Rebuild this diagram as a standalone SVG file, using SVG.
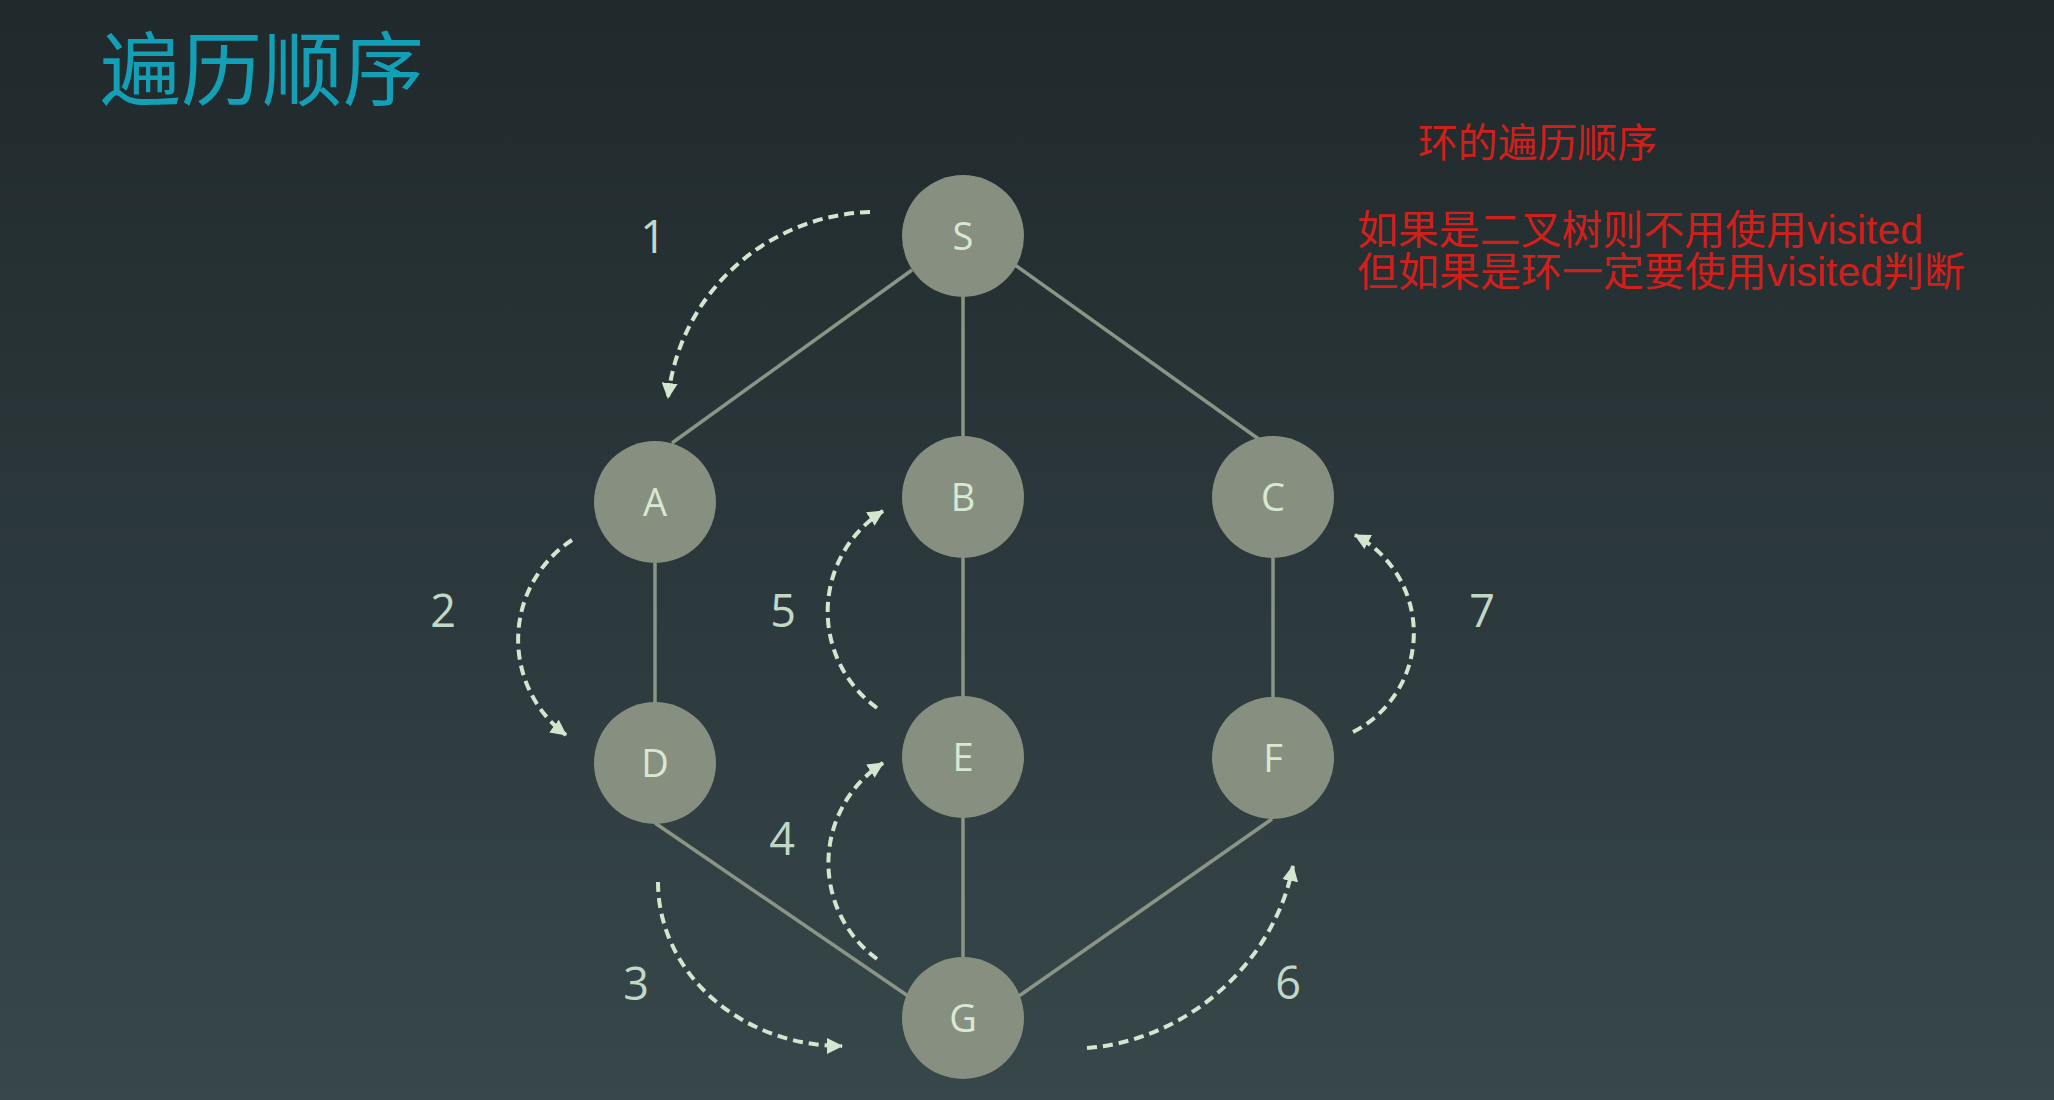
<svg xmlns="http://www.w3.org/2000/svg" width="2054" height="1100" viewBox="0 0 2054 1100">
<defs>
<linearGradient id="bg" x1="0" y1="0" x2="0" y2="1">
<stop offset="0" stop-color="#20292c"/>
<stop offset="1" stop-color="#37474a"/>
</linearGradient>
<marker id="ah" markerUnits="userSpaceOnUse" markerWidth="18" markerHeight="16" refX="15" refY="8" orient="auto" viewBox="0 0 18 16">
<path d="M0,0 L16,8 L0,16 z" fill="#d4e6cf"/>
</marker>
<style>
.edge{stroke:#8b9585;stroke-width:3.5;fill:none}
.node{fill:#879080}
.nl{font-family:"Open Sans","Noto Sans",sans-serif;font-size:38px;fill:#d8e8d2;text-anchor:middle}
.num{font-family:"Open Sans","Noto Sans",sans-serif;font-size:45px;fill:#c2d8c6;text-anchor:middle}
.trav{stroke:#d4e6cf;stroke-width:4;fill:none;stroke-dasharray:10 6;marker-end:url(#ah)}
.red{font-family:"Liberation Sans","Noto Sans CJK SC",sans-serif;font-size:40px;fill:#d0201c}
</style>
</defs>
<rect width="2054" height="1100" fill="url(#bg)"/>
<text x="100" y="99" font-family="'Noto Sans CJK SC',sans-serif" font-size="81" fill="#139fb5">遍历顺序</text>
<g id="notes">
<text class="red" x="1418" y="157" textLength="239" lengthAdjust="spacingAndGlyphs">环的遍历顺序</text>
<text class="red" x="1357" y="244" textLength="566" lengthAdjust="spacingAndGlyphs">如果是二叉树则不用使用visited</text>
<text class="red" x="1357" y="286" textLength="608" lengthAdjust="spacingAndGlyphs">但如果是环一定要使用visited判断</text>
</g>
<g id="connectors">
<line class="edge" x1="912" y1="270" x2="672" y2="443"/>
<line class="edge" x1="1015" y1="265" x2="1260" y2="440"/>
<line class="edge" x1="963" y1="297" x2="963" y2="436"/>
<line class="edge" x1="655" y1="563" x2="655" y2="703"/>
<line class="edge" x1="963" y1="558" x2="963" y2="697"/>
<line class="edge" x1="1273" y1="558" x2="1273" y2="697"/>
<line class="edge" x1="655" y1="823" x2="908" y2="996"/>
<line class="edge" x1="963" y1="818" x2="963" y2="957"/>
<line class="edge" x1="1272" y1="819" x2="1019" y2="996"/>
</g>
<g id="traversal">
<path class="trav" d="M870,212 C770,215 680,290 668,398"/>
<path class="trav" d="M572,540 A119,119 0 0 0 566,735"/>
<path class="trav" d="M658,882 A184,164 0 0 0 842,1046"/>
<path class="trav" d="M877,959 A119,119 0 0 1 883,763"/>
<path class="trav" d="M877,708 A119,119 0 0 1 883,511"/>
<path class="trav" d="M1087,1048 C1190,1040 1275,960 1293,866"/>
<path class="trav" d="M1353,732 A111,111 0 0 0 1355,535"/>
</g>
<g id="labels">
<text class="num" x="653" y="253">1</text>
<text class="num" x="443" y="627">2</text>
<text class="num" x="636" y="1000">3</text>
<text class="num" x="782" y="855">4</text>
<text class="num" x="783" y="627">5</text>
<text class="num" x="1288" y="999">6</text>
<text class="num" x="1482" y="627">7</text>
</g>
<g id="node-S"><circle class="node" cx="963" cy="236" r="61"/><text class="nl" x="963" y="250">S</text></g>
<g id="node-A"><circle class="node" cx="655" cy="502" r="61"/><text class="nl" x="655" y="516">A</text></g>
<g id="node-B"><circle class="node" cx="963" cy="497" r="61"/><text class="nl" x="963" y="511">B</text></g>
<g id="node-C"><circle class="node" cx="1273" cy="497" r="61"/><text class="nl" x="1273" y="511">C</text></g>
<g id="node-D"><circle class="node" cx="655" cy="763" r="61"/><text class="nl" x="655" y="777">D</text></g>
<g id="node-E"><circle class="node" cx="963" cy="757" r="61"/><text class="nl" x="963" y="771">E</text></g>
<g id="node-F"><circle class="node" cx="1273" cy="758" r="61"/><text class="nl" x="1273" y="772">F</text></g>
<g id="node-G"><circle class="node" cx="963" cy="1018" r="61"/><text class="nl" x="963" y="1032">G</text></g>
</svg>
